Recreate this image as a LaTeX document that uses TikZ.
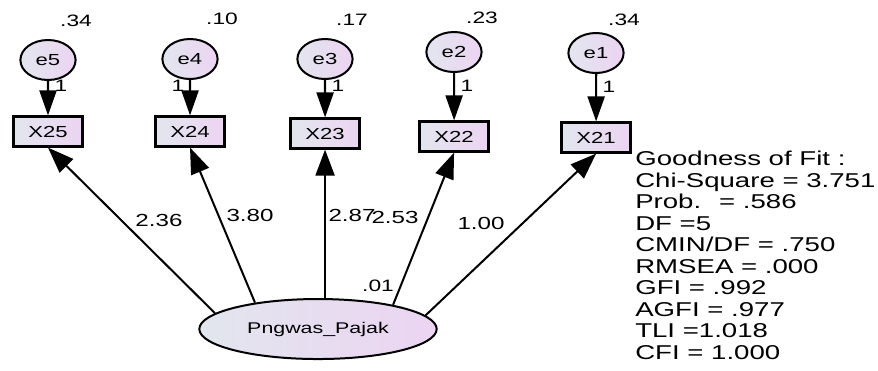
\documentclass[tikz,border=0pt]{standalone}
\usepackage{fontspec}
\setmainfont{Liberation Sans}
\usetikzlibrary{arrows.meta}
\usetikzlibrary{shapes.geometric}

\definecolor{shadeleft}{RGB}{226,230,238}
\definecolor{shaderight}{RGB}{236,212,242}

\begin{document}
\begin{tikzpicture}[x=0.7246pt, y=-1pt, xscale=1.38, transform shape,
    obs/.style={rectangle, draw, line width=2.2pt, left color=shadeleft, right color=shaderight,
      minimum width=50pt, minimum height=30pt, inner sep=0pt, font=\fontsize{16}{16}\selectfont},
    err/.style={circle, draw, line width=2pt, left color=shadeleft, right color=shaderight,
      minimum size=40pt, inner sep=0pt, font=\fontsize{16}{16}\selectfont},
    lat/.style={ellipse, draw, line width=2pt, left color=shadeleft, right color=shaderight,
      minimum width=172pt, minimum height=60pt, inner sep=0pt, font=\fontsize{15.5}{16}\selectfont},
    var/.style={inner sep=0pt, font=\fontsize{16.5}{17}\selectfont},
    coef/.style={inner sep=0pt, font=\fontsize{17.5}{18}\selectfont},
    reg/.style={line width=2pt, -{Triangle[length=26pt, width=19pt]}},
    errarr/.style={line width=2.2pt, -{Triangle[length=25pt, width=17pt]}},
  ]
    \useasboundingbox (0,0) rectangle (878,370);

    % error terms
    \node[err] (e5) at (48,60) {e5};
    \node[err] (e4) at (190,59) {e4};
    \node[err] (e3) at (325,59) {e3};
    \node[err] (e2) at (454,52) {e2};
    \node[err] (e1) at (596,53) {e1};

    % indicators
    \node[obs] (x25) at (48,131.5) {X25};
    \node[obs] (x24) at (190,131.5) {X24};
    \node[obs] (x23) at (325,133.5) {X23};
    \node[obs] (x22) at (454,136.5) {X22};
    \node[obs] (x21) at (596,137.5) {X21};

    % latent
    \node[lat] (pajak) at (318,329) {Pngwas\_Pajak};

    \draw[errarr] (e5) -- (x25);
    \draw[errarr] (e4) -- (x24);
    \draw[errarr] (e3) -- (x23);
    \draw[errarr] (e2) -- (x22);
    \draw[errarr] (e1) -- (x21);

    \draw[reg] (pajak.168) -- (x25.south);
    \draw[reg] (pajak.150) -- (x24.south);
    \draw[reg] (pajak.north -| x23.south) -- (x23.south);
    \draw[reg] (pajak.24) -- (x22.south);
    \draw[reg] (pajak.10) -- (x21.south);

    % variances and fixed loadings
    \node[var] (v5) at (76,21) {.34};
    \node[var] (v4) at (222,19) {.10};
    \node[var] (v3) at (352,20) {.17};
    \node[var] (v2) at (482,18) {.23};
    \node[var] (v1) at (624,20) {.34};
    \node[var] (one5) at (61,86) {1};
    \node[var] (one4) at (178,86) {1};
    \node[var] (one3) at (338,86) {1};
    \node[var] (one2) at (467,86) {1};
    \node[var] (one1) at (609,87) {1};
    \node[var] (vlat) at (378,286) {.01};

    % loadings
    \node[coef] (b25) at (159,220) {2.36};
    \node[coef] (b24) at (250,215) {3.80};
    \node[coef] (b23) at (352,215) {2.87};
    \node[coef] (b22) at (395,217) {2.53};
    \node[coef] (b21) at (481,223) {1.00};

    \node[anchor=north west, inner sep=0pt, align=left, font=\fontsize{20}{21.5}\selectfont] (gof) at (635,151)
      {Goodness of Fit :\\ Chi-Square = 3.751\\ Prob.~ = .586\\ DF =5\\ CMIN/DF = .750\\
       RMSEA = .000\\ GFI = .992\\ AGFI = .977\\ TLI =1.018\\ CFI = 1.000};
\end{tikzpicture}
\end{document}
